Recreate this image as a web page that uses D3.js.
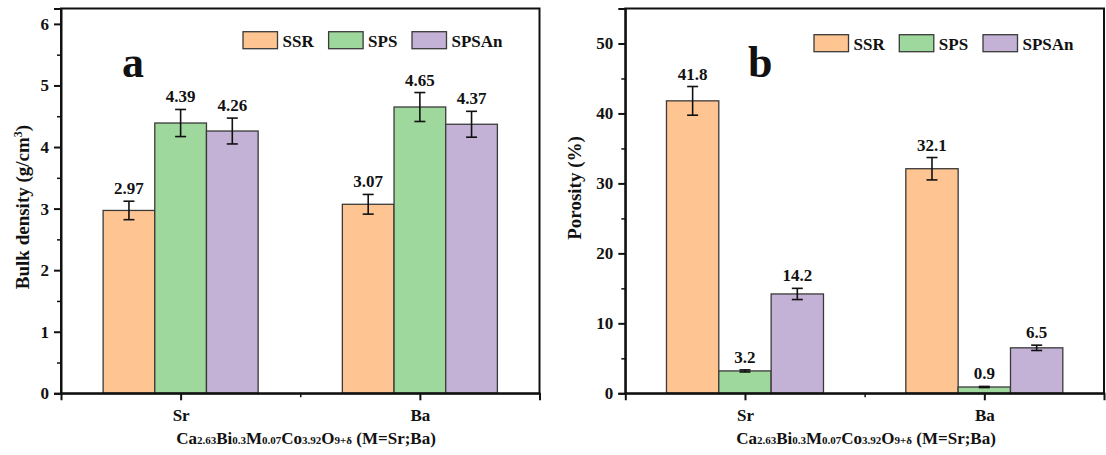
<!DOCTYPE html>
<html>
<head>
<meta charset="utf-8">
<script src="https://cdn.jsdelivr.net/npm/d3@7"></script>
<style>
  html, body { margin: 0; padding: 0; background: #fff; }
  svg { display: block; }
  text { font-family: "Liberation Serif", "Times New Roman", serif; font-weight: bold; fill: #111; }
</style>
</head>
<body>
<svg id="chart" width="1106" height="455"></svg>
<script>
// Samples and processing routes
const categories = ["Sr", "Ba"];
const series = ["SSR", "SPS", "SPSAn"];
const colors = ["#FEC592", "#9FD89C", "#C3B1D6"];

// Bulk density (g/cm3), rows = series, columns = categories
const densityValues = [[2.97, 3.07], [4.39, 4.65], [4.26, 4.37]];
const densityErrors = [[0.15, 0.16], [0.22, 0.235], [0.21, 0.21]];
const densityTicks = [0, 1, 2, 3, 4, 5, 6];
const densityLabels = ["2.97", "3.07", "4.39", "4.65", "4.26", "4.37"];

// Porosity (%)
const porosityValues = [[41.8, 32.1], [3.2, 0.9], [14.2, 6.5]];
const porosityErrors = [[2.05, 1.6], [0.15, 0.08], [0.8, 0.38]];
const porosityTicks = [0, 10, 20, 30, 40, 50];
const porosityLabels = ["41.8", "32.1", "3.2", "0.9", "14.2", "6.5"];

const svg = d3.select("#chart");

function drawPanel(opt) {
  const g = svg.append("g");
  const x = d3.scaleLinear().domain([0.5, 2.5]).range([opt.left, opt.right]);
  const y = d3.scaleLinear().domain(opt.yDomain).range([opt.bottom, opt.top]);
  const groupW = (x(2) - x(1)) * opt.groupFrac;
  const barW = groupW / series.length;

  // bars with error bars and value labels
  series.forEach((s, si) => {
    categories.forEach((c, ci) => {
      const v = opt.values[si][ci];
      const e = opt.errors[si][ci];
      const x0 = x(ci + 1) - groupW / 2 + si * barW;
      const cx = x0 + barW / 2;
      g.append("rect")
        .attr("x", x0).attr("y", y(v))
        .attr("width", barW).attr("height", y(0) - y(v))
        .attr("fill", colors[si])
        .attr("stroke", "#3a3a3a").attr("stroke-width", 1.3);
      const eg = g.append("g").attr("stroke", "#111").attr("stroke-width", 1.6);
      eg.append("line").attr("x1", cx).attr("x2", cx).attr("y1", y(v - e)).attr("y2", y(v + e));
      eg.append("line").attr("x1", cx - 5.5).attr("x2", cx + 5.5).attr("y1", y(v - e)).attr("y2", y(v - e));
      eg.append("line").attr("x1", cx - 5.5).attr("x2", cx + 5.5).attr("y1", y(v + e)).attr("y2", y(v + e));
      g.append("text")
        .attr("x", cx).attr("y", y(v + e) - 7)
        .attr("text-anchor", "middle")
        .attr("font-size", 17)
        .text(opt.labels[si * categories.length + ci]);
    });
  });

  // frame
  g.append("rect")
    .attr("x", opt.left).attr("y", opt.top)
    .attr("width", opt.right - opt.left).attr("height", opt.bottom - opt.top)
    .attr("fill", "none").attr("stroke", "#111").attr("stroke-width", 2);

  // y axis
  const yAxis = d3.axisLeft(y).tickValues(opt.yTicks).tickSize(7).tickPadding(5).tickFormat(d3.format("d"));
  const ya = g.append("g").attr("transform", `translate(${opt.left},0)`).call(yAxis);
  ya.select(".domain").attr("stroke", "#111").attr("stroke-width", 2);
  ya.selectAll(".tick line").attr("stroke", "#111").attr("stroke-width", 2);
  ya.selectAll(".tick text").attr("font-size", 17).attr("fill", "#111");
  const minorY = d3.axisLeft(y).tickValues(opt.yMinor).tickSize(4).tickFormat("");
  const ym = g.append("g").attr("transform", `translate(${opt.left},0)`).call(minorY);
  ym.select(".domain").remove();
  ym.selectAll(".tick line").attr("stroke", "#111").attr("stroke-width", 1.5);

  // x axis
  const xAxis = d3.axisBottom(x).tickValues([1, 2]).tickSize(7).tickPadding(9)
    .tickFormat((d) => categories[d - 1]);
  const xa = g.append("g").attr("transform", `translate(0,${opt.bottom})`).call(xAxis);
  xa.select(".domain").attr("stroke", "#111").attr("stroke-width", 2);
  xa.selectAll(".tick line").attr("stroke", "#111").attr("stroke-width", 2);
  xa.selectAll(".tick text").attr("font-size", 17).attr("fill", "#111");
  const minorX = d3.axisBottom(x).tickValues([1.5]).tickSize(4).tickFormat("");
  const xm = g.append("g").attr("transform", `translate(0,${opt.bottom})`).call(minorX);
  xm.select(".domain").remove();
  xm.selectAll(".tick line").attr("stroke", "#111").attr("stroke-width", 1.5);

  // x title with subscripts
  const xt = g.append("text")
    .attr("x", opt.xTitleX).attr("y", 444)
    .attr("text-anchor", "middle").attr("font-size", 17);
  const parts = [["Ca", 0], ["2.63", 1], ["Bi", 0], ["0.3", 1], ["M", 0], ["0.07", 1],
                 ["Co", 0], ["3.92", 1], ["O", 0], ["9+δ", 1], [" (M=Sr;Ba)", 0]];
  parts.forEach(([t, sub]) => {
    xt.append("tspan").attr("font-size", sub ? 11 : 17).text(t);
  });

  // y title
  const yt = g.append("text")
    .attr("transform", `translate(${opt.yTitleX},${opt.yTitleY}) rotate(-90)`)
    .attr("text-anchor", "middle").attr("font-size", 19);
  opt.yTitle.forEach(([t, sup]) => {
    yt.append("tspan")
      .attr("font-size", sup ? 12 : 19)
      .attr("baseline-shift", sup ? "super" : null)
      .text(t);
  });

  // panel letter
  g.append("text").attr("x", opt.letterX).attr("y", 77)
    .attr("font-size", 44).text(opt.letter);

  // legend
  series.forEach((s, si) => {
    const lx = opt.legendX[si];
    g.append("rect").attr("x", lx).attr("y", opt.legendY)
      .attr("width", 34.5).attr("height", 17)
      .attr("fill", colors[si]).attr("stroke", "#3a3a3a").attr("stroke-width", 1.3);
    g.append("text").attr("x", lx + 39.5).attr("y", opt.legendY + 15)
      .attr("font-size", 17).text(s);
  });
}

drawPanel({
  left: 61, right: 539.5, top: 8.5, bottom: 393.3,
  yDomain: [0, 6.25], yTicks: densityTicks, yMinor: d3.range(0.5, 6.5, 1),
  values: densityValues, errors: densityErrors, labels: densityLabels,
  groupFrac: 0.648,
  yTitle: [["Bulk density (g/cm", 0], ["3", 1], [")", 0]], yTitleX: 29, yTitleY: 207,
  xTitleX: 306,
  letter: "a", letterX: 122,
  legendX: [243, 328.6, 412], legendY: 31.7
});

drawPanel({
  left: 625.3, right: 1104, top: 8.5, bottom: 393.3,
  yDomain: [0, 55], yTicks: porosityTicks, yMinor: d3.range(5, 55, 10),
  values: porosityValues, errors: porosityErrors, labels: porosityLabels,
  groupFrac: 0.656,
  yTitle: [["Porosity (%)", 0]], yTitleX: 581, yTitleY: 188,
  xTitleX: 866,
  letter: "b", letterX: 748,
  legendX: [814, 899.3, 983], legendY: 34.7
});
</script>
</body>
</html>
